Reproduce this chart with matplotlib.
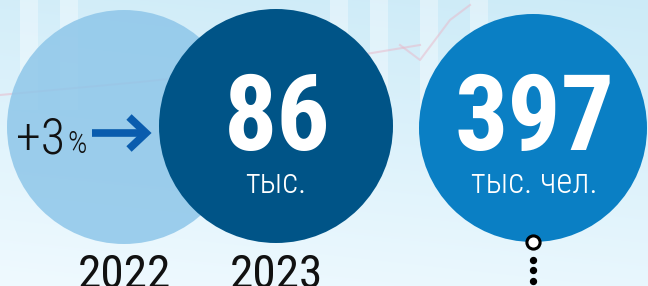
import numpy as np
import matplotlib
matplotlib.use("Agg")
import matplotlib.pyplot as plt
from matplotlib.patches import Circle
from matplotlib import font_manager

# ---- data ----
years = ["2022", "2023"]
growth_label = "+3"
growth_unit = "%"
values = [86, 397]
units = ["тыс.", "тыс. чел."]

names = {f.name for f in font_manager.fontManager.ttflist}
def pick(cands):
    for c in cands:
        if c in names:
            return c
    return "DejaVu Sans"
cond = pick(["Roboto Condensed", "PT Sans Narrow", "Fira Sans Extra Condensed",
             "Fira Sans Condensed", "Oswald"])
cond_light = pick(["Roboto Condensed", "Fira Sans Extra Condensed", "PT Sans Narrow",
                   "Fira Sans Condensed", "Oswald"])

W, H = 648, 286
fig = plt.figure(figsize=(W / 100, H / 100), dpi=100)
ax = fig.add_axes([0, 0, 1, 1])
ax.set_xlim(0, W)
ax.set_ylim(H, 0)
ax.set_aspect("auto")
ax.axis("off")

# background gradient
yy, xx = np.mgrid[0:H, 0:W]
t = np.clip(yy / H * 0.8 + (1 - xx / W) * 0.2, 0, 1)
top = np.array([0.80, 0.92, 0.97])
bot = np.array([0.94, 0.98, 1.0])
img = top[None, None, :] * (1 - t[..., None]) + bot[None, None, :] * t[..., None]
ax.imshow(img, extent=[0, W, H, 0], zorder=0, aspect="auto")
for x0 in [20, 60, 330, 370, 420, 470]:
    ax.fill_between([x0, x0 + 18], [0, 0], [110, 110], color="white", alpha=0.35, zorder=0.5, lw=0)
ax.plot([0, 140, 300, 420], [95, 82, 65, 45], color="#e9b7c8", lw=1.5, alpha=0.5, zorder=0.6)
ax.plot([400, 420, 450, 470], [45, 60, 20, 5], color="#e9b7c8", lw=1.5, alpha=0.5, zorder=0.6)

# circles
ax.add_patch(Circle((124, 127), 117, color="#8ec6e9", alpha=0.85, zorder=1, lw=0))
ax.add_patch(Circle((276, 126), 117, color="#005487", zorder=2, lw=0))
ax.add_patch(Circle((533, 128), 114, color="#0a7fc4", zorder=2, lw=0))

# big numbers
ax.text(277, 150, str(values[0]), ha="center", va="baseline", color="white",
        fontsize=76, fontweight="bold", family=cond, zorder=3)
ax.text(276, 193, units[0], ha="center", va="baseline", color="white",
        fontsize=25, fontweight="light", family=cond_light, zorder=3)
ax.text(535, 150, str(values[1]), ha="center", va="baseline", color="white",
        fontsize=76, fontweight="bold", family=cond, zorder=3)
ax.text(534, 193, units[1], ha="center", va="baseline", color="white",
        fontsize=25, fontweight="light", family=cond_light, zorder=3)

# growth
ax.text(16, 153, growth_label, ha="left", va="baseline", color="#111111",
        fontsize=36, fontweight="light", family=cond_light, zorder=3)
ax.text(67, 153, growth_unit, ha="left", va="baseline", color="#111111",
        fontsize=22, fontweight="light", family=cond_light, zorder=3)
ax.plot([92, 145], [133, 133], color="#0a5cae", lw=5.5, solid_capstyle="butt", zorder=3)
ax.plot([129, 146, 129], [117, 133, 149], color="#0a5cae", lw=5.5,
        solid_joinstyle="miter", solid_capstyle="butt", zorder=3)

# years
ax.text(124, 288, years[0], ha="center", va="baseline", color="#111111",
        fontsize=34, fontweight="normal", family=cond_light, zorder=3)
ax.text(276, 288, years[1], ha="center", va="baseline", color="#111111",
        fontsize=34, fontweight="normal", family=cond_light, zorder=3)

# marker + dots
ax.scatter([533], [242], s=90, facecolor="white", edgecolor="black", linewidth=2.2, zorder=4)
ax.scatter([533, 533, 533], [260, 270, 281], s=18, color="black", zorder=4)

fig.savefig("out.png", dpi=100)
